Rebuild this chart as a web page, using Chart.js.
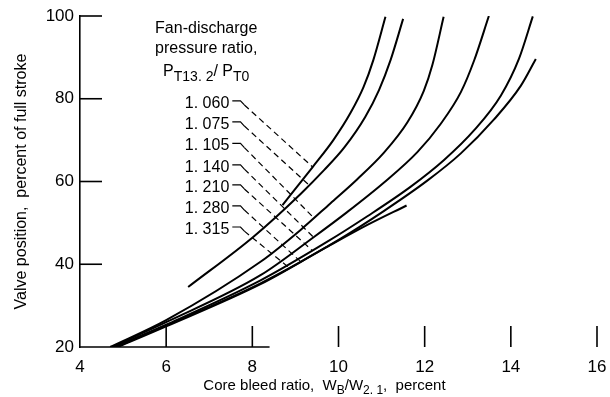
<!DOCTYPE html>
<html>
<head>
<meta charset="utf-8">
<script src="https://cdn.jsdelivr.net/npm/chart.js@4.4.0/dist/chart.umd.min.js"></script>
<style>
  html, body { margin: 0; padding: 0; background: #fff; }
  #chart { display: block; }
</style>
</head>
<body>
<canvas id="chart" width="610" height="397"></canvas>
<script>
const FONT = "'Liberation Sans', Arial, sans-serif";

// Fan-discharge pressure ratio, P_T13.2 / P_T0, one curve each
const pressureRatios = [1.060, 1.075, 1.105, 1.140, 1.210, 1.280, 1.315];

// Core bleed ratio (percent) and valve position (percent of full stroke) per curve
const bleed1060 = [8.70, 9.40, 9.88, 10.28, 10.58, 10.81, 11.09];
const valve1060 = [54.3, 63.5, 70.0, 76.6, 82.8, 89.4, 99.8];
const bleed1075 = [6.51, 8.02, 9.12, 9.67, 10.14, 10.62, 10.94, 11.21, 11.50];
const valve1075 = [34.5, 46.6, 57.0, 62.8, 68.3, 75.6, 82.1, 89.4, 99.3];
const bleed1105 = [4.70, 6.0, 8.19, 9.12, 9.81, 10.43, 11.05, 11.60, 11.98, 12.18, 12.44];
const valve1105 = [20, 26.5, 40.6, 48.3, 54.7, 60.5, 66.9, 74.3, 81.9, 88.2, 99.8];
const bleed1140 = [4.74, 6.0, 8.19, 9.43, 10.20, 11.05, 11.83, 12.37, 12.84, 13.15, 13.49];
const valve1140 = [20, 26.0, 37.35, 46.6, 52.6, 59.7, 67.1, 73.9, 81.6, 89.3, 100];
const bleed1210 = [4.79, 6.0, 8.19, 9.74, 10.67, 11.67, 12.45, 13.15, 13.77, 14.19, 14.51];
const valve1210 = [20, 25.4, 36.1, 45.45, 51.6, 58.7, 65.2, 72.4, 80.8, 89.7, 99.9];
const bleed1280 = [4.84, 6.0, 8.19, 10.05, 11.05, 12.06, 12.84, 13.61, 14.23, 14.58];
const valve1280 = [20, 25.2, 35.4, 46.2, 52.85, 60.2, 66.8, 75.0, 83.1, 89.6];
const bleed1315 = [4.88, 6.0, 8.19, 9.66, 10.67, 11.58];
const valve1315 = [20, 24.98, 35.2, 43.76, 49.5, 54.2];

const curveBleed = [bleed1060, bleed1075, bleed1105, bleed1140, bleed1210, bleed1280, bleed1315];
const curveValve = [valve1060, valve1075, valve1105, valve1140, valve1210, valve1280, valve1315];

// Label rows (valve position) and where each dashed leader meets its curve (bleed ratio)
const labelRows = [79.5, 74.4, 69.2, 64.0, 59.2, 54.1, 49.0];
const leaderEndBleed = [9.40, 9.32, 9.43, 9.42, 9.39, 9.11, 8.86];

// Axis ticks
const xTicks = [4, 6, 8, 10, 12, 14, 16];
const yTicks = [20, 40, 60, 80, 100];

// Layout (data units) for the in-plot key
const labelBleed = 7.465;
const keyTitleBleed = 6.93;
const keyTitleRows = [95.9, 91.1, 85.5];
const baselineEnd = 8.4; // the original baseline stops short after the 8 tick

function valveAt(i, x) {
    // Linear interpolation on curve i.
    const xs = curveBleed[i], ys = curveValve[i];
    for (let j = 1; j < xs.length; j++) {
        if (x <= xs[j]) {
            const t = (x - xs[j - 1]) / (xs[j] - xs[j - 1]);
            return ys[j - 1] + t * (ys[j] - ys[j - 1]);
        }
    }
    return ys[ys.length - 1];
}

const datasets = pressureRatios.map((r, i) => ({
    label: r.toFixed(3),
    data: curveBleed[i].map((x, j) => ({ x: x, y: curveValve[i][j] })),
    borderColor: "#000",
    borderWidth: 2,
    pointRadius: 0,
    fill: false,
    cubicInterpolationMode: "monotone"
}));

pressureRatios.forEach((r, i) => {
    const row = labelRows[i];
    const ex = leaderEndBleed[i];
    datasets.push({
        label: "leader " + r.toFixed(3),
        data: [
            { x: labelBleed + 0.07, y: row },
            { x: labelBleed + 0.26, y: row },
            { x: labelBleed + 0.35, y: row - 1.0 },
            { x: ex, y: valveAt(i, ex) }
        ],
        borderColor: "#000",
        borderWidth: 1.2,
        pointRadius: 0,
        tension: 0,
        segment: {
            borderDash: ctx => ctx.p0DataIndex >= 2 ? [6, 4] : undefined
        }
    });
});

function drawRich(ctx, parts, x, y, align, size, subSize, subDrop) {
    // parts: [text, isSubscript]
    let w = 0;
    parts.forEach(p => {
        ctx.font = (p[1] ? subSize : size) + "px " + FONT;
        w += ctx.measureText(p[0]).width;
    });
    let cx = align === "center" ? x - w / 2 : (align === "right" ? x - w : x);
    ctx.textAlign = "left";
    ctx.textBaseline = "alphabetic";
    parts.forEach(p => {
        ctx.font = (p[1] ? subSize : size) + "px " + FONT;
        ctx.fillText(p[0], cx, p[1] ? y + subDrop : y);
        cx += ctx.measureText(p[0]).width;
    });
}

const axesAndKey = {
    id: "axesAndKey",
    afterDatasetsDraw(chart) {
        const ctx = chart.ctx;
        const xs = chart.scales.x, ys = chart.scales.y;
        const area = chart.chartArea;
        ctx.save();
        ctx.strokeStyle = "#000";
        ctx.fillStyle = "#000";
        ctx.lineWidth = 1.6;

        // inward y ticks
        yTicks.slice(1).forEach(v => {
            const py = ys.getPixelForValue(v);
            ctx.beginPath();
            ctx.moveTo(area.left, py);
            ctx.lineTo(area.left + 22, py);
            ctx.stroke();
        });
        // partial baseline and x ticks
        ctx.beginPath();
        ctx.moveTo(area.left - 1, area.bottom);
        ctx.lineTo(xs.getPixelForValue(baselineEnd), area.bottom);
        ctx.stroke();
        xTicks.slice(1).forEach(v => {
            const px = xs.getPixelForValue(v);
            ctx.beginPath();
            ctx.moveTo(px, area.bottom);
            ctx.lineTo(px, area.bottom - 21);
            ctx.stroke();
        });

        // key
        const tx = xs.getPixelForValue(keyTitleBleed);
        drawRich(ctx, [["Fan-discharge", 0]], tx, ys.getPixelForValue(keyTitleRows[0]), "center", 16, 13, 4);
        drawRich(ctx, [["pressure ratio,", 0]], tx, ys.getPixelForValue(keyTitleRows[1]), "center", 16, 13, 4);
        drawRich(ctx, [["P", 0], ["T13. 2", 1], ["/ P", 0], ["T0", 1]],
            tx, ys.getPixelForValue(keyTitleRows[2]), "center", 16, 14, 5);
        const lx = xs.getPixelForValue(labelBleed);
        pressureRatios.forEach((r, i) => {
            const py = ys.getPixelForValue(labelRows[i]);
            drawRich(ctx, [[r.toFixed(3).replace(".", ". "), 0]], lx, py + 7, "right", 16, 13, 4);
        });

        // x axis title
        drawRich(ctx, [["Core bleed ratio,  W", 0], ["B", 1], ["/W", 0], ["2. 1", 1], [",  percent", 0]],
            (area.left + area.right) / 2 - 14, 390, "center", 15, 12, 4);
        ctx.restore();
    }
};

new Chart(document.getElementById("chart"), {
    type: "line",
    data: { datasets: datasets },
    plugins: [axesAndKey],
    options: {
        responsive: false,
        animation: false,
        devicePixelRatio: 1,
        layout: { padding: { top: 16, right: 13, left: 0, bottom: 0 }, autoPadding: false },
        plugins: { legend: { display: false }, tooltip: { enabled: false } },
        scales: {
            x: {
                type: "linear",
                min: 4,
                max: 16,
                afterBuildTicks: s => { s.ticks = xTicks.map(v => ({ value: v })); },
                afterFit: s => { s.height = 50; s.paddingLeft = 0; s.paddingRight = 0; },
                grid: { display: false, drawTicks: false },
                border: { display: false },
                ticks: { color: "#000", font: { family: FONT, size: 17 }, padding: 10, maxRotation: 0, autoSkip: false }
            },
            y: {
                type: "linear",
                min: 20,
                max: 100,
                afterBuildTicks: s => { s.ticks = yTicks.map(v => ({ value: v })); },
                afterFit: s => { s.width = 80; s.paddingTop = 0; s.paddingBottom = 0; },
                grid: { display: false, drawTicks: false },
                border: { display: true, color: "#000", width: 1.6 },
                ticks: { color: "#000", font: { family: FONT, size: 17 }, padding: 6 },
                title: {
                    display: true,
                    text: "Valve position,  percent of full stroke",
                    color: "#000",
                    font: { family: FONT, size: 16 },
                    padding: { top: 12, bottom: 0 }
                }
            }
        }
    }
});
</script>
</body>
</html>
